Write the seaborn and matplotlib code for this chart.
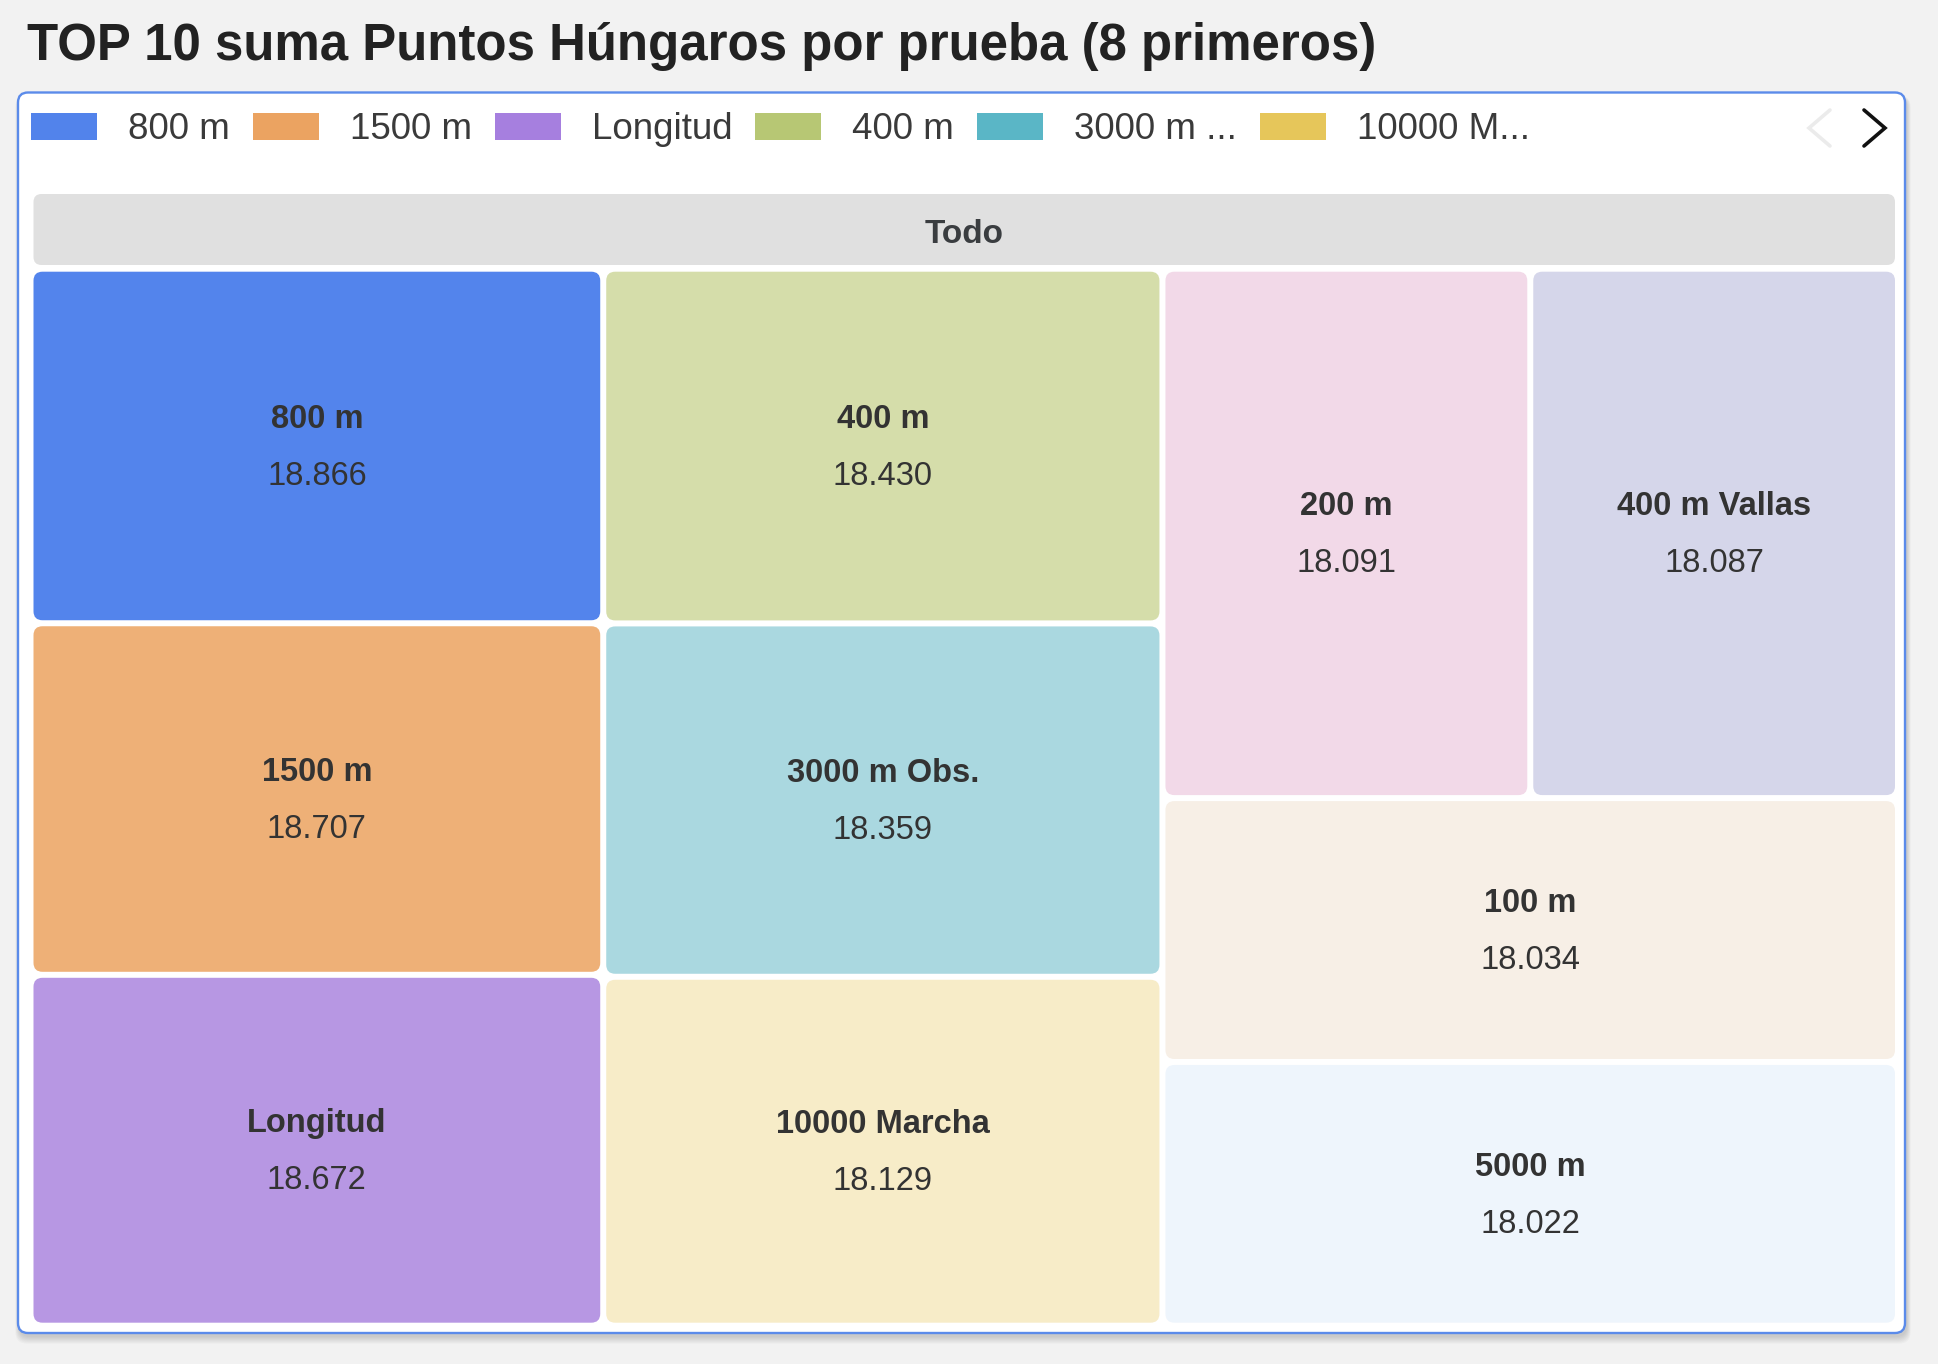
import numpy as np
import pandas as pd
import matplotlib
matplotlib.use("Agg")
import matplotlib.pyplot as plt
import seaborn as sns
from matplotlib.patches import FancyBboxPatch
from matplotlib.lines import Line2D

# ---------------- data ----------------
title = "TOP 10 suma Puntos Húngaros por prueba (8 primeros)"
root_label = "Todo"
events = ["800 m", "1500 m", "Longitud", "400 m", "3000 m Obs.",
          "10000 Marcha", "200 m", "400 m Vallas", "100 m", "5000 m"]
points = [18866, 18707, 18672, 18430, 18359, 18129, 18091, 18087, 18034, 18022]
cell_colors = ["#5384ec", "#eeb077", "#b797e3", "#d5ddaa", "#aad8e0",
               "#f7ecc8", "#f2d9e8", "#d5d6ea", "#f7efe6", "#eef5fc"]
legend_labels = ["800 m", "1500 m", "Longitud", "400 m", "3000 m ...", "10000 M..."]
legend_colors = ["#5283eb", "#eba361", "#a67fdf", "#b7c774", "#5ab6c6", "#e6c65a"]

# ---------------- style ----------------
sns.set_theme(style="white")
plt.rcParams["font.family"] = ["Liberation Sans", "DejaVu Sans"]
palette = sns.color_palette(cell_colors)

df = pd.DataFrame({"event": events, "points": points, "color": list(palette)})
df = df.sort_values("points", ascending=False).reset_index(drop=True)

W, H = 1938, 1364
fig = plt.figure(figsize=(W / 100, H / 100), dpi=100, facecolor="#f2f2f2")
ax = fig.add_axes([0, 0, 1, 1])
ax.set_xlim(0, W)
ax.set_ylim(H, 0)
ax.axis("off")
ax.set_facecolor("#f2f2f2")

# ---------------- card ----------------
cx0, cy0, cx1, cy1 = 18, 92.5, 1905, 1333
for k in range(7, 0, -1):
    ax.add_patch(FancyBboxPatch((cx0 - k * 0.6 + 1.5, cy0 + 3), cx1 - cx0 + k * 1.2, cy1 - cy0 + k * 1.1,
                                boxstyle="round,pad=0,rounding_size=12", fc="#000000",
                                ec="none", alpha=0.022, zorder=1))
ax.add_patch(FancyBboxPatch((cx0, cy0), cx1 - cx0, cy1 - cy0,
                            boxstyle="round,pad=0,rounding_size=10", fc="white",
                            ec="#5b8bea", lw=1.7, zorder=2))

# ---------------- title ----------------
ax.text(27, 60, title, fontsize=36.7, fontweight="bold", color="#222222",
        ha="left", va="baseline", zorder=5)

# ---------------- legend ----------------
fig.canvas.draw()
renderer = fig.canvas.get_renderer()
lx = 31
sw_w, sw_h, sw_y = 66, 27, 113
for lab, col in zip(legend_labels, legend_colors):
    ax.add_patch(plt.Rectangle((lx, sw_y), sw_w, sw_h, fc=col, ec="none", zorder=5))
    t = ax.text(lx + sw_w + 31, 139, lab, fontsize=26.5, color="#3a3a3a",
                ha="left", va="baseline", zorder=5)
    bb = t.get_window_extent(renderer=renderer)
    lx = lx + sw_w + 31 + bb.width + 23

# legend paging arrows
ax.add_line(Line2D([1830, 1809, 1830], [110, 128, 146], color="#ebebeb", lw=2.6,
                   solid_joinstyle="miter", zorder=5))
ax.add_line(Line2D([1864, 1885, 1864], [110, 128, 146], color="#111111", lw=2.6,
                   solid_joinstyle="miter", zorder=5))

# ---------------- breadcrumb / root bar ----------------
bx0, bx1, by0, by1 = 33.5, 1895, 194, 265
ax.add_patch(FancyBboxPatch((bx0, by0), bx1 - bx0, by1 - by0,
                            boxstyle="round,pad=0,rounding_size=8", fc="#e0e0e0",
                            ec="none", zorder=5))
ax.text((bx0 + bx1) / 2, 243.3, root_label, fontsize=24, fontweight="bold",
        color="#3a3d40", ha="center", va="baseline", zorder=6)


# ---------------- squarified treemap (golden ratio) ----------------
def worst(row_areas, fixed, ratio):
    s = sum(row_areas)
    sq = s * s
    f = fixed * fixed * ratio
    return max(f * max(row_areas) / sq, sq / (f * min(row_areas)))


def squarify(values, x, y, w, h, ratio=(1 + 5 ** 0.5) / 2):
    total = float(sum(values))
    areas = [v / total * w * h for v in values]
    rects = [None] * len(values)

    def place(row, rx, ry, rw, rh, flush):
        fixed = min(rw, rh)
        area = sum(areas[j] for j in row)
        other = area / fixed
        if fixed == rw:
            if flush or other > rh:
                other = rh
            px = rx
            for k, j in enumerate(row):
                length = rx + rw - px if k == len(row) - 1 else areas[j] / other
                rects[j] = (px, ry, length, other)
                px += length
            return rx, ry + other, rw, rh - other
        else:
            if flush or other > rw:
                other = rw
            py = ry
            for k, j in enumerate(row):
                length = ry + rh - py if k == len(row) - 1 else areas[j] / other
                rects[j] = (rx, py, other, length)
                py += length
            return rx + other, ry, rw - other, rh

    rx, ry, rw, rh = x, y, w, h
    row, best, i = [], np.inf, 0
    while i < len(values):
        cand = [areas[j] for j in row] + [areas[i]]
        score = worst(cand, min(rw, rh), ratio)
        if score <= best:
            row.append(i)
            best = score
            i += 1
        else:
            rx, ry, rw, rh = place(row, rx, ry, rw, rh, False)
            row, best = [], np.inf
    if row:
        place(row, rx, ry, rw, rh, True)
    return rects


g = 3.0
tx0, tx1, ty0, ty1 = 30.5, 1898, 268.7, 1325.7
rects = squarify(df["points"].tolist(), tx0, ty0, tx1 - tx0, ty1 - ty0)

for (x, y, w, h), name, val, col in zip(rects, df["event"], df["points"], df["color"]):
    ax.add_patch(FancyBboxPatch((x + g, y + g), w - 2 * g, h - 2 * g,
                                boxstyle="round,pad=0,rounding_size=9", fc=col,
                                ec="none", zorder=5))
    xc, yc = x + w / 2, y + h / 2
    ax.text(xc, yc - 18, name, fontsize=23.5, fontweight="bold", color="#333333",
            ha="center", va="baseline", zorder=6)
    ax.text(xc, yc + 39, f"{val:,}".replace(",", "."), fontsize=23.5, color="#333333",
            ha="center", va="baseline", zorder=6)

fig.savefig("out.png", dpi=100, facecolor=fig.get_facecolor())
